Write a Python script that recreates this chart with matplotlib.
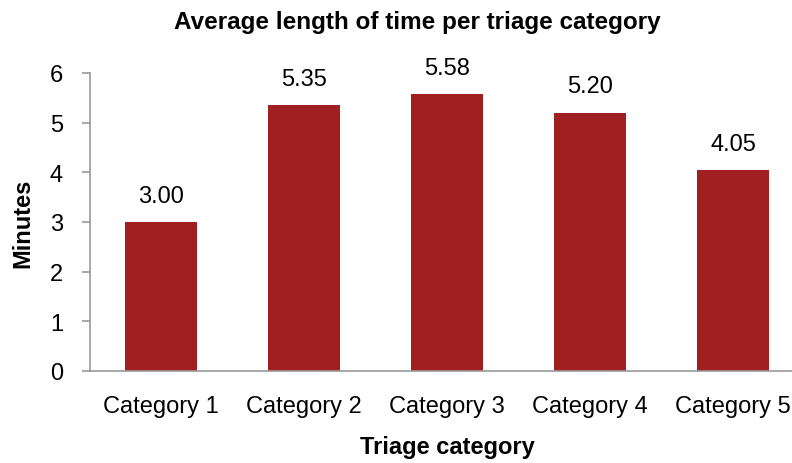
import matplotlib
matplotlib.use("Agg")
import matplotlib.pyplot as plt

categories = ["Category 1", "Category 2", "Category 3", "Category 4", "Category 5"]
minutes = [3.00, 5.35, 5.58, 5.20, 4.05]
yticks = [0, 1, 2, 3, 4, 5, 6]

plt.rcParams['font.family'] = ['Liberation Sans', 'DejaVu Sans']

fig = plt.figure(figsize=(7.92, 4.64), dpi=100)
ax = fig.add_axes([89.5 / 792, 92 / 464, 715 / 792, 298 / 464])

x = range(len(categories))
bars = ax.bar(x, minutes, width=0.5, color="#A02022")
ax.bar_label(bars, labels=[f"{v:.2f}" for v in minutes], padding=11, fontsize=17)

ax.set_xlim(-0.5, len(categories) - 0.5)
ax.set_ylim(0, 6)
ax.set_yticks(yticks)
ax.set_xticks(list(x))
ax.set_xticklabels(categories)

for side in ["top", "right"]:
    ax.spines[side].set_visible(False)
for side in ["left", "bottom"]:
    ax.spines[side].set_color("#999999")
    ax.spines[side].set_linewidth(1.2)

ax.tick_params(axis="y", length=6, width=1.2, color="#999999", pad=13, labelsize=17)
ax.tick_params(axis="x", length=0, pad=17, labelsize=17)

ax.set_ylabel("Minutes", fontsize=17, fontweight="bold", labelpad=11)
ax.set_xlabel("Triage category", fontsize=17, fontweight="bold", labelpad=13)
fig.text(417 / 792, 1 - 23 / 464, "Average length of time per triage category",
         ha="center", va="center", fontsize=17.5, fontweight="bold")

fig.savefig("out.png", dpi=100)
